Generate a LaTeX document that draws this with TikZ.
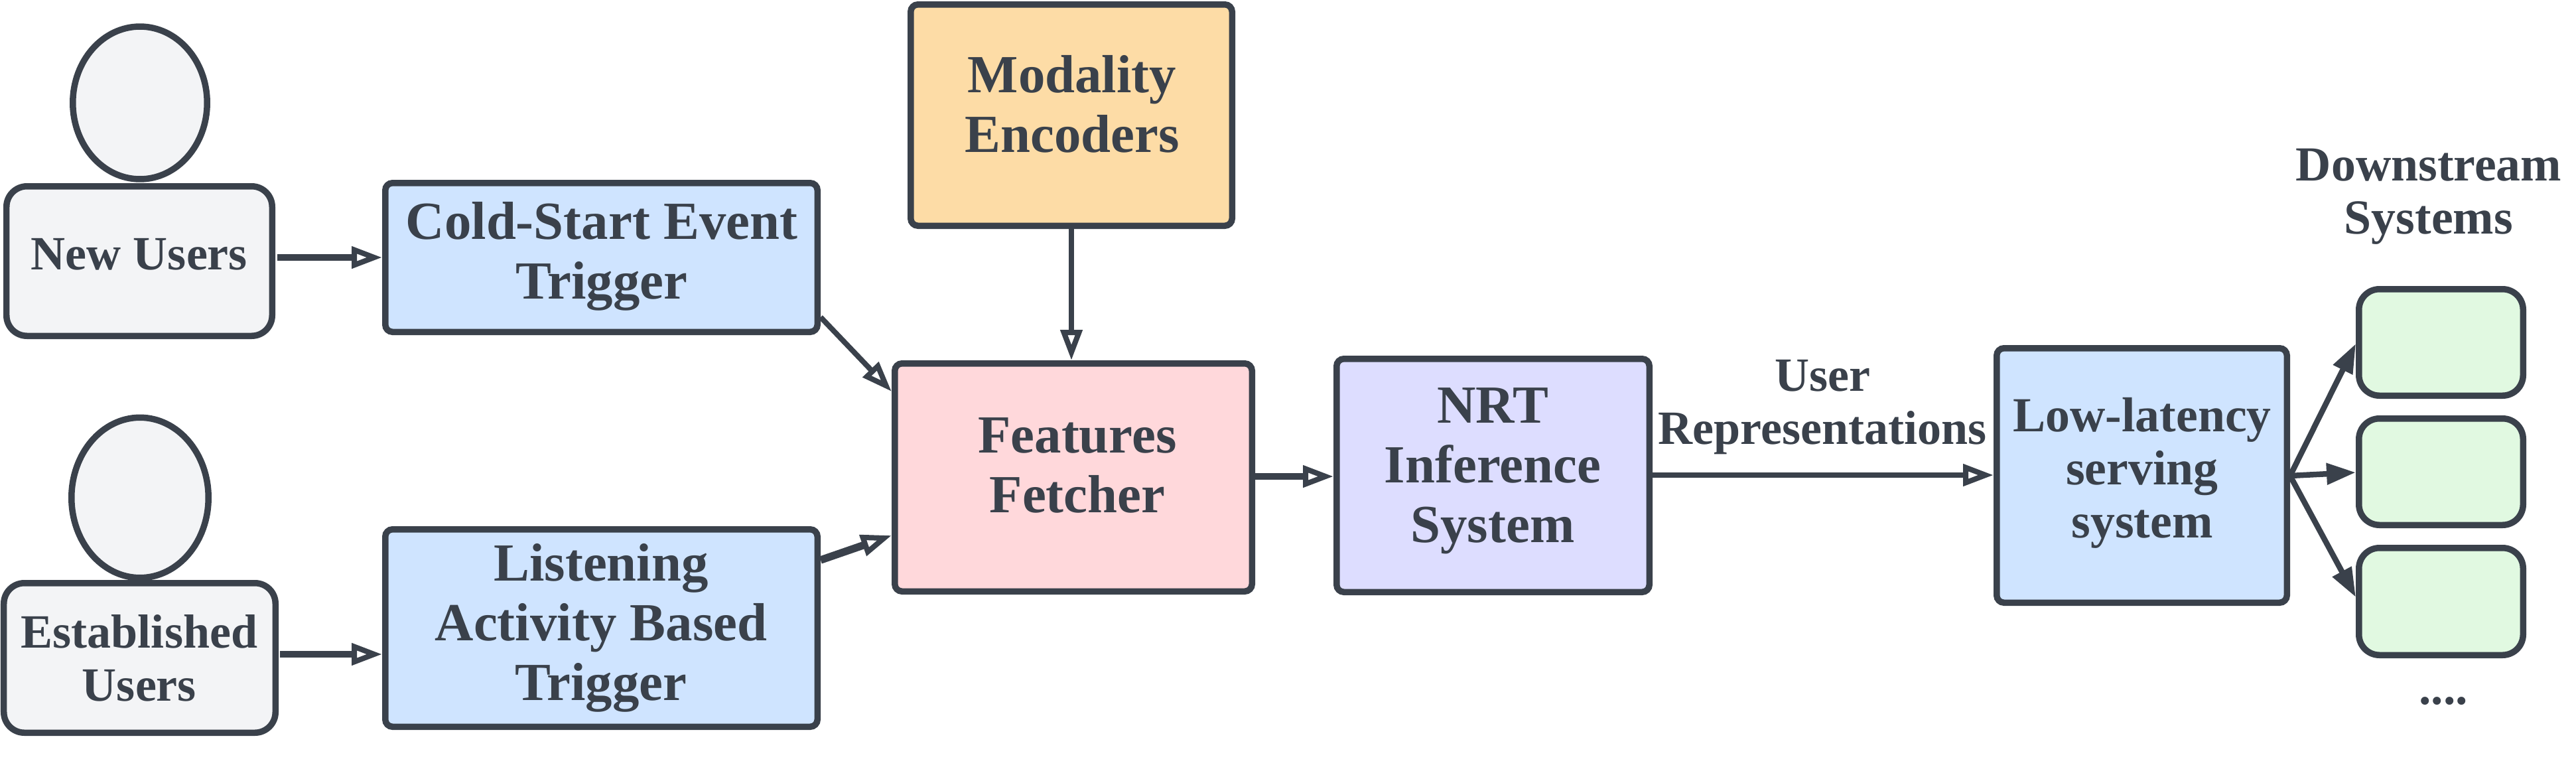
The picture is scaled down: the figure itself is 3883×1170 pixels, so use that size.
\documentclass[tikz,border=0pt]{standalone}
\usepackage{fontspec}
\setmainfont{Liberation Serif}
\usetikzlibrary{arrows.meta,shapes.geometric}
\definecolor{ink}{HTML}{3A414B}
\definecolor{userfill}{HTML}{F3F4F6}
\definecolor{bluefill}{HTML}{CFE4FF}
\definecolor{redfill}{HTML}{FFD8DB}
\definecolor{amberfill}{HTML}{FDDCA6}
\definecolor{violetfill}{HTML}{DDDDFF}
\definecolor{greenfill}{HTML}{E1F9E1}
% one unit is one pixel of the 3883 x 1170 canvas; y runs downward
\tikzset{
  x=0.02cm,y=-0.02cm,
  boxbase/.style={draw=ink,line width=0.19cm,inner sep=0pt,anchor=north west},
  sharp/.style={boxbase,rounded corners=0.22cm},
  soft/.style={boxbase,rounded corners=0.62cm},
  head/.style={ellipse,draw=ink,line width=0.19cm,fill=userfill,inner sep=0pt},
  boxtext/.style={text=ink,align=center,inner sep=0pt,anchor=base,font=\fontsize{46}{51}\selectfont\bfseries},
  smalltext/.style={boxtext,font=\fontsize{42}{45.3}\selectfont\bfseries},
  usertext/.style={boxtext,font=\fontsize{41}{45.3}\selectfont\bfseries},
  flow/.style={draw=ink,line width=#1,-{Triangle[open,fill=white,length=0.92cm,width=0.64cm,line width=0.16cm]}},
  flow/.default=0.2cm,
  fan/.style={draw=ink,line width=0.17cm,-{Triangle[fill=ink,length=0.88cm,width=0.62cm]}},
}
% \pbox{style}{name}{fill}{x0}{y0}{x1}{y1} places an empty box by its outer corners
\newcommand{\pbox}[7]{%
  \node[#1,fill=#3,minimum width={(#6-#4)*0.02cm-0.19cm},minimum height={(#7-#5)*0.02cm-0.19cm}] (#2) at (#4,#5) {};}
\begin{document}
\begin{tikzpicture}
\useasboundingbox (0,0) rectangle (3883,1170);
\fill[white] (0,0) rectangle (3883,1170);

% people: a head above each rounded body
\node[head,minimum width=4.05cm,minimum height=4.6cm] (headnew) at (211,155) {};
\node[head,minimum width=4.13cm,minimum height=4.83cm] (headest) at (211,750) {};
\pbox{soft}{newu}{userfill}{5}{276}{415}{511}
\pbox{soft}{estu}{userfill}{1}{874}{420}{1109}
\node[usertext] (newutext) at (210,406) {New Users};
\node[usertext] (estutext) at (210,1056) {Established\\Users};

% pipeline boxes
\pbox{sharp}{cold}{bluefill}{576}{271}{1237}{505}
\pbox{sharp}{listen}{bluefill}{576}{793}{1237}{1100}
\pbox{sharp}{modal}{amberfill}{1368}{2}{1862}{345}
\pbox{sharp}{feat}{redfill}{1344}{543}{1892}{896}
\pbox{sharp}{nrt}{violetfill}{2010}{536}{2491}{897}
\pbox{sharp}{serve}{bluefill}{3005}{520}{3452}{913}
\node[boxtext] (coldtext) at (907,450) {Cold-Start Event\\Trigger};
\node[boxtext] (listentext) at (906,1055) {Listening\\Activity Based\\Trigger};
\node[boxtext] (modaltext) at (1616,229) {Modality\\Encoders};
\node[boxtext] (feattext) at (1624,772) {Features\\Fetcher};
\node[boxtext] (nrttext) at (2250,817) {NRT\\Inference\\System};
\node[smalltext] (servetext) at (3229,810) {Low-latency\\serving\\system};

% downstream consumers
\pbox{soft}{dsa}{greenfill}{3551}{431}{3808}{601}
\pbox{soft}{dsb}{greenfill}{3551}{626}{3808}{796}
\pbox{soft}{dsc}{greenfill}{3551}{821}{3808}{992}

\node[smalltext] (dshead) at (3661,352) {Downstream\\Systems};
\node[smalltext] (dots) at (3683,1061) {....};
\node[smalltext,font=\fontsize{41}{45.3}\selectfont\bfseries] (urep) at (2747,669) {User\\Representations};

% connectors
\draw[flow,shorten <=0.06cm] (newu.east |- 0,388) -- (cold.west |- 0,388);
\draw[flow,shorten <=0.04cm] (estu.east |- 0,986) -- (listen.west |- 0,986);
\draw[flow=0.16cm] (cold.east |- 0,478) -- (feat.west |- 0,590);
\draw[flow=0.23cm] (listen.east |- 0,844) -- (feat.west |- 0,807);
\draw[flow=0.16cm] (modal.south) -- (modal.south |- feat.north);
\draw[flow] (feat.east |- 0,718) -- (nrt.west |- 0,718);
\draw[flow=0.17cm] (nrt.east |- 0,716) -- (serve.west |- 0,716);
\draw[fan] (serve.east |- 0,717) -- (dsa.west |- 0,518);
\draw[fan] (serve.east |- 0,717) -- (dsb.west |- 0,712);
\draw[fan] (serve.east |- 0,717) -- (dsc.west |- 0,900);
\end{tikzpicture}
\end{document}
